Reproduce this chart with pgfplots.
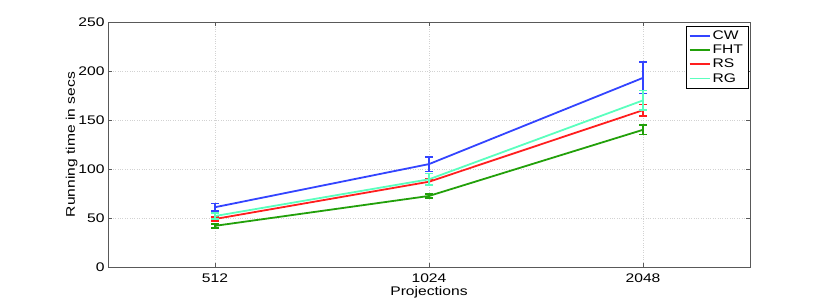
\documentclass[border=0pt]{standalone}
\usepackage{fontspec}
\setmainfont{Liberation Sans}[FakeStretch=1.25]
\usepackage{pgfplots}
\pgfplotsset{compat=1.18}
\definecolor{cw}{RGB}{51,68,255}
\definecolor{fht}{RGB}{34,160,10}
\definecolor{rs}{RGB}{255,30,30}
\definecolor{rg}{RGB}{90,255,190}
\begin{document}
\begin{tikzpicture}[x=1pt,y=1pt]
\useasboundingbox (0,0) rectangle (830,300);
\begin{axis}[
  at={(108pt,33pt)}, anchor=south west,
  scale only axis, width=642pt, height=245pt,
  xmin=0.5, xmax=3.5, ymin=0, ymax=250,
  xtick={1,2,3}, xticklabels={512,1024,2048},
  ytick={0,50,100,150,200,250},
  /pgf/number format/assume math mode=true,
  font=\fontsize{12.5}{14}\selectfont,
  tick label style={font=\fontsize{12.5}{14}\selectfont},
  xticklabel style={yshift=-3pt},
  xlabel={Projections}, ylabel={Running time in secs},
  xlabel style={yshift=2.5pt},
  ylabel style={yshift=-6pt},
  grid=major,
  major grid style={dotted, gray!35, line width=0.6pt},
  axis line style={gray!70!black},
  tick style={gray!70!black},
  tick align=inside,
  major tick length=4pt,
  legend style={at={(0.997,0.985)}, anchor=north east, draw=black, font=\fontsize{12.5}{13}\selectfont, row sep=0pt, inner sep=3pt},
  legend cell align=left,
  legend image code/.code={\draw[#1, line width=1.8pt] (0cm,0cm) -- (0.7cm,0cm);},
  every axis plot/.append style={line width=1.8pt},
  error bars/error bar style={line width=1.8pt},
  error bars/error mark options={rotate=90, mark size=4pt, line width=1.5pt},
]
\addplot[cw, error bars/.cd, y dir=both, y explicit] coordinates {
  (1,61) +- (0,4)
  (2,105) +- (0,7.5)
  (3,193) +- (0,16)
};
\addlegendentry{CW}
\addplot[fht, error bars/.cd, y dir=both, y explicit] coordinates {
  (1,42) +- (0,2)
  (2,72.5) +- (0,2)
  (3,140) +- (0,5)
};
\addlegendentry{FHT}
\addplot[rs, error bars/.cd, y dir=both, y explicit] coordinates {
  (1,49) +- (0,2)
  (2,87) +- (0,3)
  (3,160) +- (0,6)
};
\addlegendentry{RS}
\addplot[rg, error bars/.cd, y dir=both, y explicit] coordinates {
  (1,52) +- (0,3)
  (2,89.5) +- (0,6)
  (3,170) +- (0,10)
};
\addlegendentry{RG}
\end{axis}
\end{tikzpicture}
\end{document}
